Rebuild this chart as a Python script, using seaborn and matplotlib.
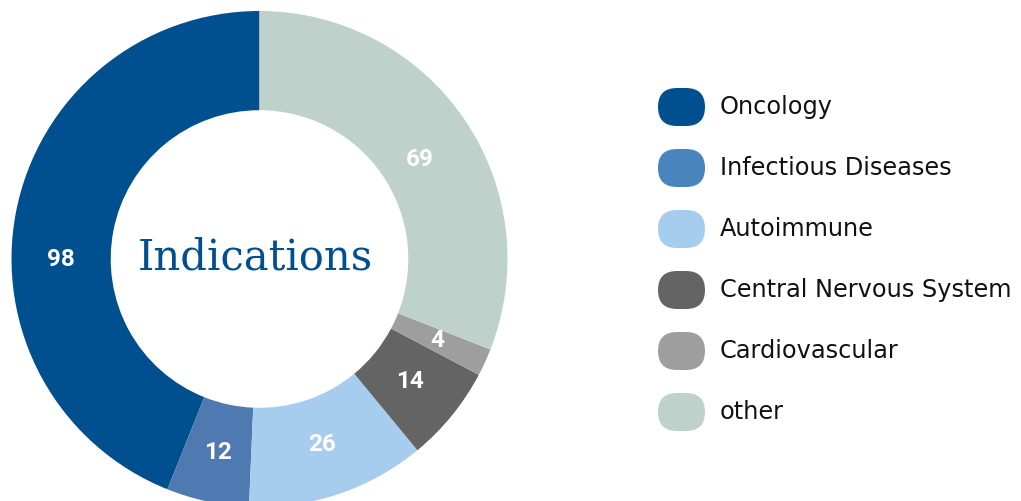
import numpy as np
import matplotlib
matplotlib.use("Agg")
import matplotlib.pyplot as plt
import seaborn as sns
from matplotlib.patches import FancyBboxPatch

# Indication data
categories = ['Oncology', 'Infectious Diseases', 'Autoimmune',
              'Central Nervous System', 'Cardiovascular', 'other']
counts = [98, 12, 26, 14, 4, 69]
wedge_colors = ['#004F8F', '#4E79B1', '#A6CCEE', '#646464', '#9E9E9E', '#BFD1CB']
legend_colors = ['#004F8F', '#4A84BD', '#A6CCEE', '#646464', '#9E9E9E', '#BFD1CB']
center_title = 'Indications'

sns.set_theme(style='white')
plt.rcParams['font.family'] = ['Roboto', 'DejaVu Sans']

W, H = 1021, 501
fig = plt.figure(figsize=(W / 100, H / 100), dpi=100)
ax = fig.add_axes([0, 0, 1, 1])

# donut, pixel-like data coordinates (y up)
cx, cy, R = 259.5, H - 259, 248
palette = sns.color_palette(wedge_colors)
wedges, texts = ax.pie(counts, colors=palette, startangle=90, counterclock=True,
                       radius=R, center=(cx, cy),
                       labels=[str(c) for c in counts], labeldistance=0.8,
                       wedgeprops=dict(width=R * 0.4, linewidth=0),
                       textprops=dict(color='white', fontsize=17.5, fontweight='bold',
                                      family=['Roboto', 'DejaVu Sans'],
                                      ha='center', va='center'))

# the big slices have their number nudged along the ring
angle_shift = [11, 0, 0, 0, 0, -2.5]
radius_frac = [0.8, 0.8, 0.79, 0.78, 0.79, 0.76]
for t, w, da, rf in zip(texts, wedges, angle_shift, radius_frac):
    a = np.deg2rad((w.theta1 + w.theta2) / 2 + da)
    t.set_position((cx + rf * R * np.cos(a), cy + rf * R * np.sin(a)))

ax.text(cx - 4, H - 270, center_title, family=['DejaVu Serif'],
        fontsize=30, color='#00508F', ha='center', va='baseline')

# legend with pill shaped markers
leg_y0, leg_dy = H - 107, 61
for i, (name, col) in enumerate(zip(categories, legend_colors)):
    y = leg_y0 - i * leg_dy
    pill = FancyBboxPatch((658, y - 19), 47, 38,
                          boxstyle='round,pad=0,rounding_size=19',
                          facecolor=col, edgecolor='none')
    ax.add_patch(pill)
    ax.text(720, y, name, family=['DejaVu Sans'], fontsize=17.3, color='#111111',
            ha='left', va='center')

ax.set_xlim(0, W)
ax.set_ylim(0, H)
ax.set_aspect('equal')
ax.axis('off')

fig.savefig('out.png', dpi=100)
